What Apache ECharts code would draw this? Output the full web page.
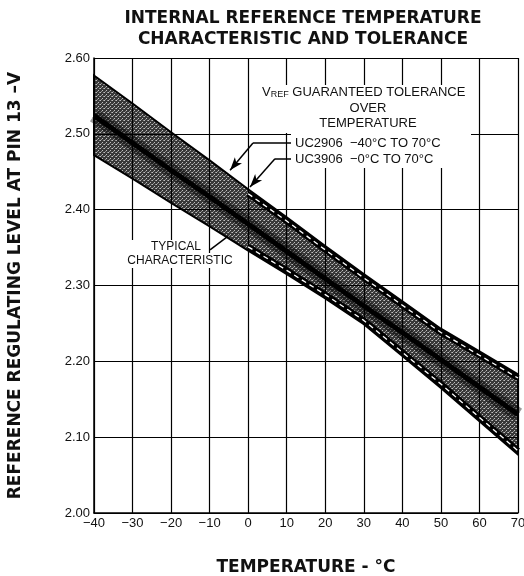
<!DOCTYPE html>
<html><head><meta charset="utf-8">
<script src="https://cdn.jsdelivr.net/npm/echarts@6/dist/echarts.min.js"></script>
<style>html,body{margin:0;padding:0;background:#fff;overflow:hidden}#c{width:524px;height:576px}</style>
</head><body><div id="c"></div>
<script>
// ---- data ----
var temps = [-40, -30, -20, -10, 0, 10, 20, 30, 40, 50, 60, 70];
var uc2906Upper = [2.577, 2.540, 2.502, 2.465, 2.427, 2.390, 2.352, 2.315, 2.279, 2.243, 2.213, 2.183];
var uc2906Lower = [2.472, 2.441, 2.409, 2.378, 2.346, 2.315, 2.283, 2.249, 2.207, 2.165, 2.121, 2.077];
var typical     = [2.524, 2.488, 2.452, 2.417, 2.381, 2.345, 2.309, 2.273, 2.238, 2.202, 2.166, 2.130];
var uc3906Temps = [0, 10, 20, 30, 40, 50, 60, 70];
var uc3906Upper = [2.421, 2.385, 2.347, 2.310, 2.274, 2.238, 2.208, 2.178];
var uc3906Lower = [2.351, 2.320, 2.288, 2.254, 2.212, 2.170, 2.126, 2.082];
var xTickLabels = ['\u221240', '\u221230', '\u221220', '\u221210', '0', '10', '20', '30', '40', '50', '60', '70'];
var yTickLabels = ['2.00', '2.10', '2.20', '2.30', '2.40', '2.50', '2.60'];
var leader2906 = [[11.4, 2.488], [1.25, 2.488], [-4.7, 2.452]];
var leader3906 = [[11.4, 2.467], [6.95, 2.467], [0.47, 2.430]];
var leaderTypical = [[-9.9, 2.347], [-5.2, 2.365]];

function pairs(xs, ys) { return xs.map(function (x, i) { return [x, ys[i]]; }); }

function leaderLines(pts, arrow) {
  var d = [];
  for (var i = 0; i < pts.length - 1; i++) {
    var last = i === pts.length - 2;
    d.push([{ coord: pts[i], symbol: 'none' }, { coord: pts[i + 1], symbol: (last && arrow) ? 'arrow' : 'none', symbolSize: [7, 13] }]);
  }
  return d;
}

// stipple texture (fixed pattern)
var pat = document.createElement('canvas');
pat.width = 4; pat.height = 4;
(function () {
  var g = pat.getContext('2d');
  g.fillStyle = 'rgba(0,0,0,0.78)'; g.fillRect(0, 0, 4, 4);
  g.clearRect(0, 0, 1, 1); g.fillStyle = 'rgba(0,0,0,0.25)'; g.fillRect(0, 0, 1, 1);
  g.clearRect(2, 2, 1, 1); g.fillRect(2, 2, 1, 1);
  g.clearRect(3, 0, 1, 1); g.fillStyle = 'rgba(0,0,0,0.45)'; g.fillRect(3, 0, 1, 1);
  g.clearRect(1, 3, 1, 1); g.fillRect(1, 3, 1, 1);
})();

var FONT = 'Liberation Sans, Arial, Helvetica, sans-serif';
var BOLD = 'DejaVu Sans, Liberation Sans, Arial, sans-serif';
var chart = echarts.init(document.getElementById('c'));
chart.setOption({
  animation: false,
  backgroundColor: '#fff',
  title: {
    text: 'INTERNAL REFERENCE TEMPERATURE\nCHARACTERISTIC AND TOLERANCE',
    left: 298, top: 3, textAlign: 'center',
    textStyle: { fontFamily: BOLD, fontSize: 17, fontWeight: 'bold', color: '#111', lineHeight: 21 }
  },
  grid: { left: 94, right: 6, top: 58, bottom: 63, containLabel: false, outerBoundsMode: 'none' },
  xAxis: {
    type: 'value', min: -40, max: 70, interval: 10,
    name: 'TEMPERATURE - \u00B0C', nameLocation: 'middle', nameGap: 46,
    nameTextStyle: { fontFamily: BOLD, fontSize: 17, fontWeight: 'bold', color: '#111' },
    axisLine: { show: true, onZero: false, lineStyle: { color: '#000', width: 1.5 } },
    axisTick: { show: false },
    axisLabel: {
      margin: 4, color: '#111', fontFamily: FONT, fontSize: 13,
      formatter: function (v) { return xTickLabels[Math.round((v + 40) / 10)]; }
    },
    splitLine: { show: true, lineStyle: { color: '#000', width: 1.2 } }
  },
  yAxis: {
    type: 'value', min: 2.0, max: 2.6, interval: 0.1,
    name: 'REFERENCE REGULATING LEVEL AT PIN 13 \u2013V', nameLocation: 'middle', nameGap: 70,
    nameTextStyle: { fontFamily: BOLD, fontSize: 17, fontWeight: 'bold', color: '#111' },
    axisLine: { show: true, onZero: false, lineStyle: { color: '#000', width: 1.5 } },
    axisTick: { show: false },
    axisLabel: {
      margin: 4, color: '#111', fontFamily: FONT, fontSize: 13,
      formatter: function (v) { return yTickLabels[Math.round((v - 2.0) * 10)]; }
    },
    splitLine: { show: true, lineStyle: { color: '#000', width: 1.2 } }
  },
  series: [
    { type: 'custom', z: 3, data: [0], silent: true,
      renderItem: function (params, api) {
        var pts = [];
        for (var i = 0; i < temps.length; i++) pts.push(api.coord([temps[i], uc2906Upper[i]]));
        for (var j = temps.length - 1; j >= 0; j--) pts.push(api.coord([temps[j], uc2906Lower[j]]));
        return { type: 'polygon', shape: { points: pts }, style: { fill: { image: pat, repeat: 'repeat' }, stroke: '#000', lineWidth: 2 } };
      } },
    { type: 'line', data: pairs(temps, typical), symbol: 'none',
      lineStyle: { color: 'rgba(0,0,0,0.4)', width: 14, cap: 'butt' }, z: 4 },
    { type: 'line', data: pairs(temps, typical), symbol: 'none',
      lineStyle: { color: '#000', width: 5, cap: 'butt' }, z: 4 },
    { type: 'line', data: pairs(uc3906Temps, uc3906Upper), symbol: 'none',
      lineStyle: { color: '#000', width: 6, cap: 'butt' }, z: 5 },
    { type: 'line', data: pairs(uc3906Temps, uc3906Lower), symbol: 'none',
      lineStyle: { color: '#000', width: 6, cap: 'butt' }, z: 5 },
    { type: 'line', data: pairs(uc3906Temps, uc3906Upper), symbol: 'none',
      lineStyle: { color: '#fff', width: 1.3, type: [5, 4] }, z: 6 },
    { type: 'line', data: pairs(uc3906Temps, uc3906Lower), symbol: 'none',
      lineStyle: { color: '#fff', width: 1.3, type: [5, 4] }, z: 6 },
    { type: 'line', data: [], z: 20, silent: true,
      markLine: {
        silent: true, animation: false, symbol: ['none', 'none'],
        label: { show: false },
        lineStyle: { color: '#000', width: 1.5, type: 'solid' },
        data: leaderLines(leader2906, true).concat(leaderLines(leader3906, true), leaderLines(leaderTypical, false))
      } }
  ],
  graphic: [
    { type: 'rect', z: 10, shape: { x: 262, y: 85, width: 215, height: 48 }, style: { fill: '#fff' } },
    { type: 'rect', z: 10, shape: { x: 291, y: 133, width: 180, height: 35 }, style: { fill: '#fff' } },
    { type: 'rect', z: 10, shape: { x: 126, y: 240, width: 80, height: 13 }, style: { fill: '#fff' } },
    { type: 'rect', z: 10, shape: { x: 126, y: 253, width: 112, height: 15 }, style: { fill: '#fff' } },
    { type: 'text', z: 11, left: 262, top: 86, style: {
        text: '{a|V}{s|REF}{a| GUARANTEED TOLERANCE}', fontFamily: FONT,
        rich: { a: { fontSize: 13, fontFamily: FONT, fill: '#111' }, s: { fontSize: 9, fontFamily: FONT, fill: '#111', padding: [4, 0, 0, 0] } } } },
    { type: 'text', z: 11, style: { x: 368, y: 108, text: 'OVER', textAlign: 'center', textVerticalAlign: 'middle', fontSize: 13, fontFamily: FONT, fill: '#111' } },
    { type: 'text', z: 11, style: { x: 368, y: 123, text: 'TEMPERATURE', textAlign: 'center', textVerticalAlign: 'middle', fontSize: 13, fontFamily: FONT, fill: '#111' } },
    { type: 'text', z: 11, style: { x: 295, y: 143, text: 'UC2906  \u221240\u00B0C TO 70\u00B0C', textVerticalAlign: 'middle', fontSize: 13, fontFamily: FONT, fill: '#111' } },
    { type: 'text', z: 11, style: { x: 295, y: 159, text: 'UC3906  \u22120\u00B0C TO 70\u00B0C', textVerticalAlign: 'middle', fontSize: 13, fontFamily: FONT, fill: '#111' } },
    { type: 'text', z: 11, style: { x: 176, y: 247, text: 'TYPICAL', textAlign: 'center', textVerticalAlign: 'middle', fontSize: 12, fontFamily: FONT, fill: '#111' } },
    { type: 'text', z: 11, style: { x: 180, y: 261, text: 'CHARACTERISTIC', textAlign: 'center', textVerticalAlign: 'middle', fontSize: 12, fontFamily: FONT, fill: '#111' } }
  ]
});
</script></body></html>
